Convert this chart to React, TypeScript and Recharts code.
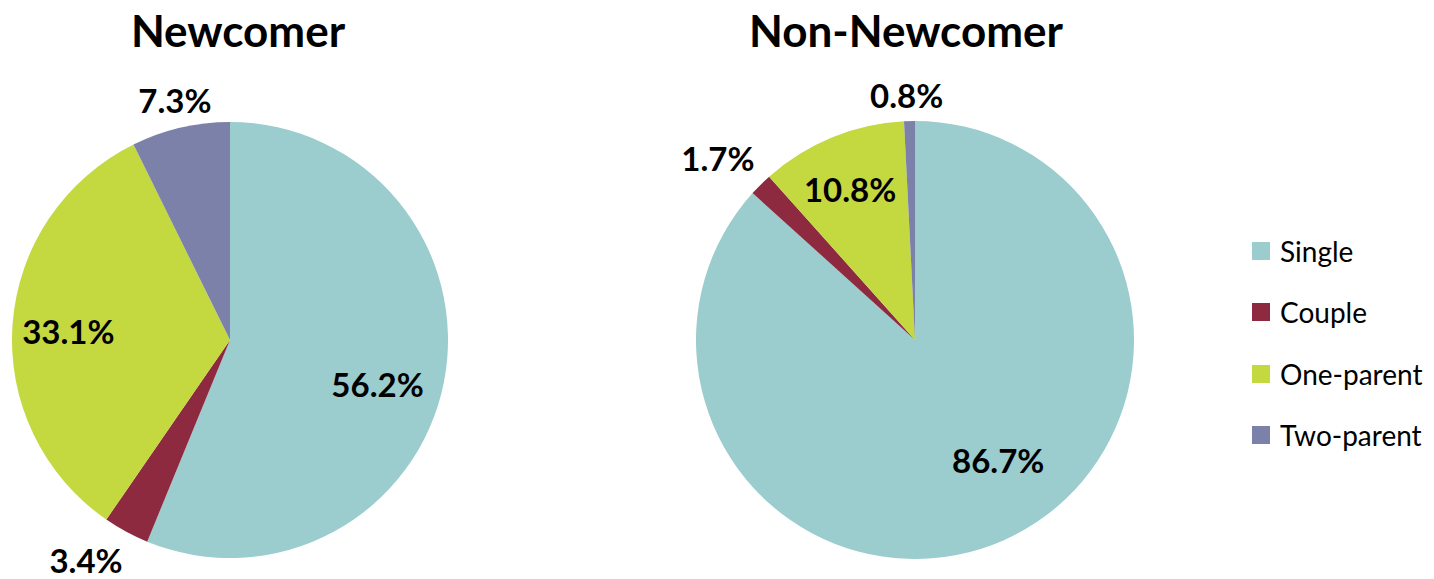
import { PieChart, Pie, Cell } from "recharts";

const categories = ["Single", "Couple", "One-parent", "Two-parent"];
const colors = ["#9BCCCE", "#8E2A40", "#C4D840", "#7B81A8"];
const newcomerValues = [56.2, 3.4, 33.1, 7.3];
const nonNewcomerValues = [86.7, 1.7, 10.8, 0.8];
const titles = ["Newcomer", "Non-Newcomer"];

// label placement: angle nudge (deg) and distance as share of the radius
const newcomerLabelPos = [
  [-5.4, 0.706],
  [-4.8, 1.205],
  [0.9, 0.743],
  [-0.2, 1.128],
];
const nonNewcomerLabelPos = [
  [10.8, 0.667],
  [2.5, 1.224],
  [1, 0.749],
  [0.5, 1.119],
];

const FONT = "Lato, 'Open Sans', sans-serif";
const RAD = Math.PI / 180;

const toData = (values: number[]) =>
  categories.map((name, i) => ({ name, value: values[i] }));

function makeLabel(pos: number[][]) {
  return (props: any) => {
    const { cx, cy, midAngle, outerRadius, index, value } = props;
    const [nudge, factor] = pos[index];
    const a = (midAngle + nudge) * RAD;
    const r = outerRadius * factor;
    const x = cx + r * Math.cos(a);
    const y = cy - r * Math.sin(a);
    return (
      <text
        x={x}
        y={y}
        textAnchor="middle"
        dominantBaseline="central"
        fill="#000"
        fontFamily={FONT}
        fontWeight={700}
        fontSize={33}
      >
        {value.toFixed(1)}%
      </text>
    );
  };
}

export default function App() {
  return (
    <div
      style={{
        position: "absolute",
        left: 0,
        top: 0,
        width: 1434,
        height: 579,
        background: "#fff",
        fontFamily: FONT,
      }}
    >
      <div style={{ position: "absolute", left: 238 - 200, top: 4, width: 400, textAlign: "center", fontSize: 44, fontWeight: 700 }}>
        {titles[0]}
      </div>
      <div style={{ position: "absolute", left: 906 - 250, top: 4, width: 500, textAlign: "center", fontSize: 44, fontWeight: 700 }}>
        {titles[1]}
      </div>
      <PieChart width={1434} height={579} margin={{ top: 0, right: 0, bottom: 0, left: 0 }}>
        <Pie
          data={toData(newcomerValues)}
          dataKey="value"
          nameKey="name"
          cx={230}
          cy={340}
          outerRadius={218}
          startAngle={90}
          endAngle={-270}
          stroke="none"
          labelLine={false}
          label={makeLabel(newcomerLabelPos)}
          isAnimationActive={false}
        >
          {categories.map((c, i) => (
            <Cell key={c} fill={colors[i]} />
          ))}
        </Pie>
        <Pie
          data={toData(nonNewcomerValues)}
          dataKey="value"
          nameKey="name"
          cx={915}
          cy={340}
          outerRadius={219}
          startAngle={90}
          endAngle={-270}
          stroke="none"
          labelLine={false}
          label={makeLabel(nonNewcomerLabelPos)}
          isAnimationActive={false}
        >
          {categories.map((c, i) => (
            <Cell key={c} fill={colors[i]} />
          ))}
        </Pie>
      </PieChart>
      <div style={{ position: "absolute", left: 1252, top: 220 }}>
        {categories.map((c, i) => (
          <div key={c} style={{ display: "flex", alignItems: "center", height: 61.5 }}>
            <span style={{ width: 18, height: 18, background: colors[i], display: "inline-block", marginRight: 10 }} />
            <span style={{ fontSize: 28, color: "#000" }}>{c}</span>
          </div>
        ))}
      </div>
    </div>
  );
}
